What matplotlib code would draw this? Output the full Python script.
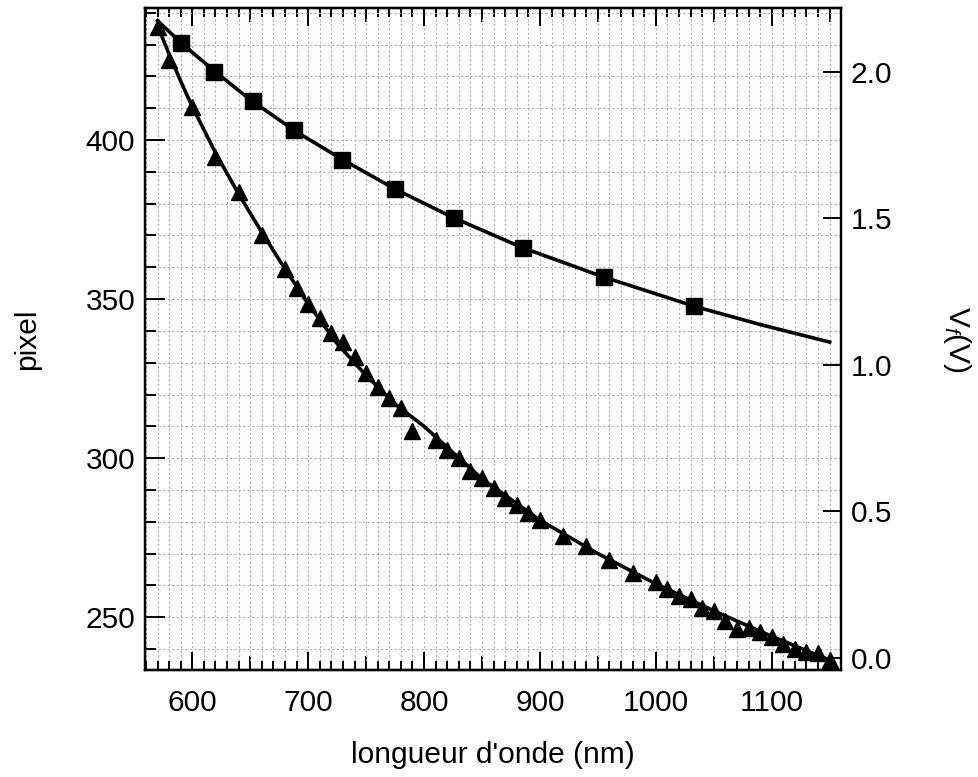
import numpy as np
import matplotlib
matplotlib.use("Agg")
import matplotlib.pyplot as plt
from matplotlib.ticker import MultipleLocator, FormatStrFormatter

plt.rcParams['font.family'] = ['Liberation Sans', 'DejaVu Sans']
plt.rcParams['mathtext.fontset'] = 'custom'
plt.rcParams['mathtext.rm'] = 'Liberation Sans'
plt.rcParams['mathtext.it'] = 'Liberation Sans:italic'

# spectrometer calibration: wavelength (nm) -> pixel (triangles, left axis)
cal_nm = [570, 580, 600, 620, 640, 660, 680, 690, 700, 710, 720, 730, 740, 750,
          760, 770, 780, 790, 810, 820, 830, 840, 850, 860, 870, 880, 890, 900,
          920, 940, 960, 980, 1000, 1010, 1020, 1030, 1040, 1050, 1060, 1070,
          1080, 1090, 1100, 1110, 1120, 1130, 1140, 1150]
cal_pix = [435.4, 425.0, 410.3, 394.6, 383.7, 370.1, 359.6, 353.4, 348.6, 344.2,
           339.2, 336.6, 331.9, 326.7, 322.5, 318.8, 315.7, 308.4, 305.8, 302.6,
           300.0, 295.8, 293.7, 290.6, 287.5, 285.4, 282.8, 280.7, 275.6, 272.3,
           268.1, 263.9, 261.0, 258.9, 256.8, 255.8, 252.9, 252.1, 248.7, 246.2,
           246.6, 245.3, 243.8, 241.7, 239.9, 239.0, 238.6, 236.7]

# smooth curve through the calibration points
cal_fit_nm = [570, 580, 590, 600, 620, 640, 660, 680, 700, 725, 750, 775, 800,
              850, 900, 950, 1000, 1050, 1100, 1150]
cal_fit_pix = [436.0, 427.0, 418.5, 410.5, 396.0, 383.0, 371.0, 359.5, 348.5,
               336.0, 326.0, 317.0, 310.0, 293.5, 280.5, 270.0, 260.5, 252.0,
               244.0, 236.5]

# LED forward voltage (squares, right axis)
led_nm = [590, 619, 652, 688, 729, 775, 826, 885, 955, 1033]
led_v = [2.1, 2.0, 1.9, 1.8, 1.7, 1.6, 1.5, 1.4, 1.3, 1.2]

vf_fit_nm = [570, 590, 620, 650, 690, 730, 775, 825, 885, 955, 1035, 1090, 1150]
vf_fit_v = [2.175, 2.10, 2.0, 1.905, 1.795, 1.70, 1.60, 1.503, 1.40, 1.30,
            1.198, 1.138, 1.078]

FS = 21.5

fig = plt.figure(figsize=(9.79, 7.77), dpi=100)
ax = fig.add_axes([145 / 979, 1 - 670 / 777, 696 / 979, 662 / 777])
ax2 = ax.twinx()

ax.plot(cal_fit_nm, cal_fit_pix, color='black', lw=2.6, zorder=3)
ax.plot(cal_nm, cal_pix, ls='none', marker='^', ms=11, color='black', zorder=4)

ax2.plot(vf_fit_nm, vf_fit_v, color='black', lw=2.6, zorder=3)
ax2.plot(led_nm, led_v, ls='none', marker='s', ms=12, color='black', zorder=4)

ax.set_xlim(559.2, 1159.8)
ax.set_ylim(233.4, 441.5)
ax2.set_ylim(-0.041, 2.218)

ax.xaxis.set_major_locator(MultipleLocator(100))
ax.xaxis.set_minor_locator(MultipleLocator(10))
ax.yaxis.set_major_locator(MultipleLocator(50))
ax.yaxis.set_minor_locator(MultipleLocator(10))
ax2.yaxis.set_major_locator(MultipleLocator(0.5))
ax2.yaxis.set_major_formatter(FormatStrFormatter('%.1f'))

ax.grid(which='both', color='#b0b0b0', ls=(0, (2, 2)), lw=0.8)
ax.set_axisbelow(True)

ax.tick_params(which='both', direction='in', top=True, right=False,
               labelsize=FS, width=1.4, color='black')
ax.tick_params(axis='x', which='major', length=13, pad=14)
ax.tick_params(axis='x', which='minor', length=6.5)
ax.tick_params(axis='y', which='major', length=14.5, pad=7)
ax.tick_params(axis='y', which='minor', length=8)
ax2.tick_params(which='major', direction='in', length=13, width=1.4,
                labelsize=FS, pad=7)
ax2.tick_params(which='minor', right=False)

# medium ticks every 50 nm on bottom and top
for side in ['bottom', 'top']:
    sec = ax.secondary_xaxis(side)
    sec.set_xticks(np.arange(650, 1151, 100))
    sec.tick_params(direction='in', length=10, width=1.4,
                    labelbottom=False, labeltop=False)
    sec.spines[side].set_linewidth(1.6)

for a in (ax, ax2):
    for s in a.spines.values():
        s.set_linewidth(1.6)

ax.set_xlabel("longueur d'onde (nm)", fontsize=FS, va='top')
ax.xaxis.set_label_coords(0.5, -0.108)
ax.set_ylabel('pixel', fontsize=FS, va='bottom')
ax.yaxis.set_label_coords(-0.15, 0.5)
ax2.set_ylabel('V$_{f}$(V)', fontsize=FS, rotation=270, va='bottom')
ax2.yaxis.set_label_coords(1.143, 0.5)

fig.savefig('out.png', dpi=100)
